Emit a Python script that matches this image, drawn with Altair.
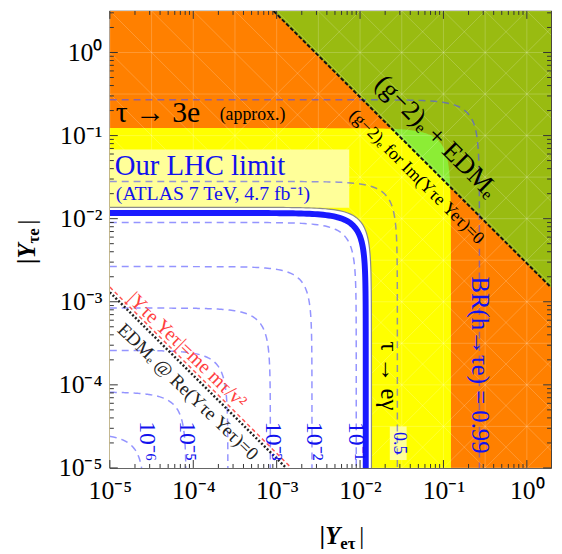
import numpy as np
import pandas as pd
import altair as alt

# ---------------- values ----------------
X_MIN, X_MAX = 1e-5, 1.95
Y_MIN, Y_MAX = 1e-5, 3.16

tick_values = [1e-5, 1e-4, 1e-3, 1e-2, 1e-1, 1.0]
tick_labels = ["10⁻⁵", "10⁻⁴", "10⁻³", "10⁻²", "10⁻¹", "10⁰"]

# BR(h -> tau e) iso-contours: level label and radius sqrt(|Yet|^2+|Yte|^2)
br_levels = ["1e-6", "1e-5", "1e-4", "1e-3", "1e-2", "1e-1", "0.5", "0.99"]
br_radius = [2.6e-5, 8.2e-5, 2.6e-4, 8.4e-4, 2.65e-3, 9.0e-3, 2.8e-2, 2.7e-1]

lhc_radius = 0.0117        # "Our LHC limit"
taueg_radius = 0.0137      # tau -> e gamma boundary (white region)
tau3e_radius = 0.123       # tau -> 3e (approx.) boundary
g2_edm_product = 2.9e-3    # (g-2)_e + EDM_e line  |Yte Yet| = const
edm_re_product = 1.3e-8    # EDM_e @ Re(...)=0
me_mtau_v2 = 1.5e-8        # |Yte Yet| = m_e m_tau / v^2

mesh_exponents = [-12, -11, -10, -9, -8, -7, -6, -5, -4, -3, -2, -1, 0, 1, 2, 3, 4, 5]

# ---------------- layout ----------------
W, H = 446, 462
LEFT, TOP = 111, 8
SERIF = "Liberation Serif"
BLUE = "#1212ee"

xsc = alt.Scale(type="log", domain=[X_MIN, X_MAX], nice=False)
ysc = alt.Scale(type="log", domain=[Y_MIN, Y_MAX], nice=False)
label_expr = "[" + ",".join("'%s'" % t for t in tick_labels) + "][round(log(datum.value)/LN10)+5]"
xaxis = alt.Axis(values=tick_values, labelExpr=label_expr, ticks=False, domain=False, grid=False,
                 labelFont=SERIF, labelFontSize=26, labelPadding=10, labelColor="black",
                 labelFlush=False, labelOverlap=False, title=None)
yaxis = alt.Axis(values=tick_values, labelExpr=label_expr, ticks=False, domain=False, grid=False,
                 labelFont=SERIF, labelFontSize=26, labelPadding=8, labelColor="black",
                 labelFlush=False, labelOverlap=False, title=None)


def X(f):
    return alt.X(f, type="quantitative", scale=xsc, axis=xaxis)


def Y(f):
    return alt.Y(f, type="quantitative", scale=ysc, axis=yaxis)


def arc(r, n=90):
    s = np.logspace(-5, np.log10(r / np.sqrt(2)), n)
    other = np.sqrt(r ** 2 - s ** 2)
    xs = np.concatenate([s, other[::-1][1:]])
    ys = np.concatenate([other, s[::-1][1:]])
    return xs, ys


layers = []

# orange background (tau -> 3e)
layers.append(alt.Chart(pd.DataFrame({"x": [X_MIN], "x2": [X_MAX], "y": [Y_MIN], "y2": [Y_MAX]}))
              .mark_rect(color="#ff8000").encode(x=X("x"), x2="x2", y=Y("y"), y2="y2"))

# yellow quarter disc
xs, ys = arc(tau3e_radius)
layers.append(alt.Chart(pd.DataFrame({"x": xs, "y": ys, "y0": Y_MIN}))
              .mark_area(color="#ffff00").encode(x=X("x"), y=Y("y"), y2="y0"))

# white region (allowed by tau -> e gamma)
xs, ys = arc(taueg_radius)
layers.append(alt.Chart(pd.DataFrame({"x": xs, "y": ys, "y0": Y_MIN}))
              .mark_area(color="#ffffff").encode(x=X("x"), y=Y("y"), y2="y0"))

# olive region above (g-2)+EDM line
x_start = g2_edm_product / Y_MAX
layers.append(alt.Chart(pd.DataFrame({"x": [x_start, X_MAX],
                                      "y": [Y_MAX, g2_edm_product / X_MAX],
                                      "y2": [Y_MAX, Y_MAX]}))
              .mark_area(color="#99bb11").encode(x=X("x"), y=Y("y"), y2="y2"))

# light green: above the line, inside tau->3e disc
r2 = tau3e_radius ** 2
disc = np.sqrt(r2 ** 2 - 4 * g2_edm_product ** 2)
xa, xb = np.sqrt((r2 - disc) / 2), np.sqrt((r2 + disc) / 2)
th = np.linspace(np.arccos(xb / tau3e_radius), np.arccos(xa / tau3e_radius), 120)[::-1]
lx = tau3e_radius * np.cos(th)
layers.append(alt.Chart(pd.DataFrame({"x": lx, "y": g2_edm_product / lx,
                                      "y2": tau3e_radius * np.sin(th)}))
              .mark_area(color="#8ced35").encode(x=X("x"), y=Y("y"), y2="y2"))

# faint white mesh lines
mesh = []
for k in mesh_exponents:
    c = 10.0 ** (k / 2.0)
    mesh.append({"id": "p%d" % k, "o": 0, "x": X_MIN, "y": c / X_MIN})
    mesh.append({"id": "p%d" % k, "o": 1, "x": X_MAX, "y": c / X_MAX})
    mesh.append({"id": "r%d" % k, "o": 0, "x": X_MIN, "y": X_MIN * c})
    mesh.append({"id": "r%d" % k, "o": 1, "x": X_MAX, "y": X_MAX * c})
for k in range(-10, 2):
    v = 10.0 ** (k / 2.0)
    mesh.append({"id": "v%d" % k, "o": 0, "x": v, "y": Y_MIN})
    mesh.append({"id": "v%d" % k, "o": 1, "x": v, "y": Y_MAX})
    mesh.append({"id": "h%d" % k, "o": 0, "x": X_MIN, "y": v})
    mesh.append({"id": "h%d" % k, "o": 1, "x": X_MAX, "y": v})
layers.append(alt.Chart(pd.DataFrame(mesh)).mark_line(color="white", strokeWidth=0.8, opacity=0.25, clip=True)
              .encode(x=X("x"), y=Y("y"), detail="id:N", order="o:Q"))


def pixel_rect(x0, x1, y0, y1, color):
    return alt.Chart(pd.DataFrame({"a": [0]})).mark_rect(color=color).encode(
        x=alt.value(x0 - LEFT), x2=alt.value(x1 - LEFT), y=alt.value(y0 - TOP), y2=alt.value(y1 - TOP))


# label background boxes
layers.append(pixel_rect(LEFT, 353, 148, 207, "#ffff99"))
layers.append(pixel_rect(394, 411, 428, 462, "#ffff99"))

# BR contours
rows = []
for lev, r in zip(br_levels, br_radius):
    xs, ys = arc(r)
    for i, (a, b) in enumerate(zip(xs, ys)):
        rows.append({"lev": lev, "i": i, "x": a, "y": b})
layers.append(alt.Chart(pd.DataFrame(rows)).mark_line(color="#4d4dff", strokeWidth=1.5, opacity=0.6,
                                                      strokeDash=[7, 5], clip=True)
              .encode(x=X("x"), y=Y("y"), detail="lev:N", order="i:Q"))

# white region boundary
xs, ys = arc(taueg_radius)
layers.append(alt.Chart(pd.DataFrame({"x": xs, "y": ys, "i": range(len(xs))}))
              .mark_line(color="#8a8a8a", strokeWidth=1.2, clip=True)
              .encode(x=X("x"), y=Y("y"), order="i:Q"))

# LHC limit
xs, ys = arc(lhc_radius)
layers.append(alt.Chart(pd.DataFrame({"x": xs, "y": ys, "i": range(len(xs))}))
              .mark_line(color="#1a1aff", strokeWidth=6, clip=True)
              .encode(x=X("x"), y=Y("y"), order="i:Q"))


# straight product lines
def product_line(c, color, width, dash):
    return alt.Chart(pd.DataFrame({"x": [max(X_MIN, c / Y_MAX), min(X_MAX, c / Y_MIN)],
                                   "y": [c / max(X_MIN, c / Y_MAX), c / min(X_MAX, c / Y_MIN)]}))\
        .mark_line(color=color, strokeWidth=width, strokeDash=dash, clip=True)\
        .encode(x=X("x"), y=Y("y"))


layers.append(product_line(me_mtau_v2, "#ff5555", 1.5, [4, 3]))
layers.append(product_line(edm_re_product, "#222222", 2.5, [2, 2]))
layers.append(product_line(g2_edm_product, "#111111", 2, [4, 2]))


def label(text, px, py, size, color="black", angle=0, align="left", baseline="alphabetic",
          style="normal", weight="normal"):
    return alt.Chart(pd.DataFrame({"t": [text]})).mark_text(
        align=align, baseline=baseline, angle=angle, fontSize=size, font=SERIF,
        color=color, fontStyle=style, fontWeight=weight
    ).encode(x=alt.value(px - LEFT), y=alt.value(py - TOP), text="t:N")


layers += [
    label("τ → 3e", 117, 120, 30),
    label("(approx.)", 222, 118, 18),
    label("Our LHC limit", 116, 174, 29, BLUE),
    label("(ATLAS 7 TeV, 4.7 fb⁻¹)", 117, 199, 20, BLUE),
    label("(g−2)ₑ + EDMₑ", 441, 135, 27, angle=45, align="center", baseline="middle"),
    label("(g−2)ₑ for Im(Yτe Yeτ)=0", 421, 176, 18, angle=45, align="center", baseline="middle"),
    label("τ → eγ", 393, 377, 25, angle=90, align="center", baseline="middle"),
    label("BR(h→τe) = 0.99", 485, 366, 25, BLUE, angle=90, align="center", baseline="middle"),
    label("0.5", 403, 445, 18, BLUE, angle=90, align="center", baseline="middle"),
    label("10⁻⁶", 148, 443, 24, BLUE, angle=90, align="center", baseline="middle"),
    label("10⁻⁵", 189, 443, 24, BLUE, angle=90, align="center", baseline="middle"),
    label("10⁻³", 276, 443, 24, BLUE, angle=90, align="center", baseline="middle"),
    label("10⁻²", 317, 443, 24, BLUE, angle=90, align="center", baseline="middle"),
    label("10⁻¹", 360, 443, 24, BLUE, angle=90, align="center", baseline="middle"),
    label("|Yτe Yeτ|=me mτ/v²", 189, 351, 20, "#ff4040", angle=44, align="center", baseline="middle"),
    label("EDMₑ @ Re(Yτe Yeτ)=0", 190, 393, 19, "#222222", angle=44, align="center", baseline="middle"),
    # axis titles
    label("|Y", 344, 547, 25, style="italic", weight="bold", align="right"),
    label("eτ", 344, 552, 17, weight="bold"),
    label("|", 363, 547, 25),
    label("|Y", 35, 243, 25, angle=270, style="italic", weight="bold", align="right"),
    label("τe", 39, 243, 17, angle=270, weight="bold"),
    label("|", 35, 224, 25, angle=270),
]

# inward frame ticks
minor_x = [m * 10.0 ** k for k in range(-5, 1) for m in range(2, 10) if m * 10.0 ** k < X_MAX]
minor_y = [m * 10.0 ** k for k in range(-5, 1) for m in range(2, 10) if m * 10.0 ** k < Y_MAX]


def xticks(vals, length):
    df = pd.DataFrame({"x": vals})
    b = alt.Chart(df).mark_rule(color="#333333", strokeWidth=1).encode(
        x=X("x"), y=alt.value(H), y2=alt.value(H - length))
    t = alt.Chart(df).mark_rule(color="#333333", strokeWidth=1).encode(
        x=X("x"), y=alt.value(0), y2=alt.value(length))
    return [b, t]


def yticks(vals, length):
    df = pd.DataFrame({"y": vals})
    l = alt.Chart(df).mark_rule(color="#333333", strokeWidth=1).encode(
        y=Y("y"), x=alt.value(0), x2=alt.value(length))
    r = alt.Chart(df).mark_rule(color="#333333", strokeWidth=1).encode(
        y=Y("y"), x=alt.value(W), x2=alt.value(W - length))
    return [l, r]


layers += xticks(tick_values, 8) + xticks(minor_x, 4) + yticks(tick_values, 8) + yticks(minor_y, 4)

chart = alt.layer(*layers).properties(
    width=W, height=H,
    autosize=alt.AutoSizeParams(type="none"),
    padding={"left": LEFT - 8, "top": TOP - 8, "right": 3, "bottom": 84},
    background="white",
).configure_view(stroke="#333333", strokeWidth=1.2).configure_axis(labelFont=SERIF)

chart.save("out.html", embed_options={"renderer": "svg", "actions": False})
